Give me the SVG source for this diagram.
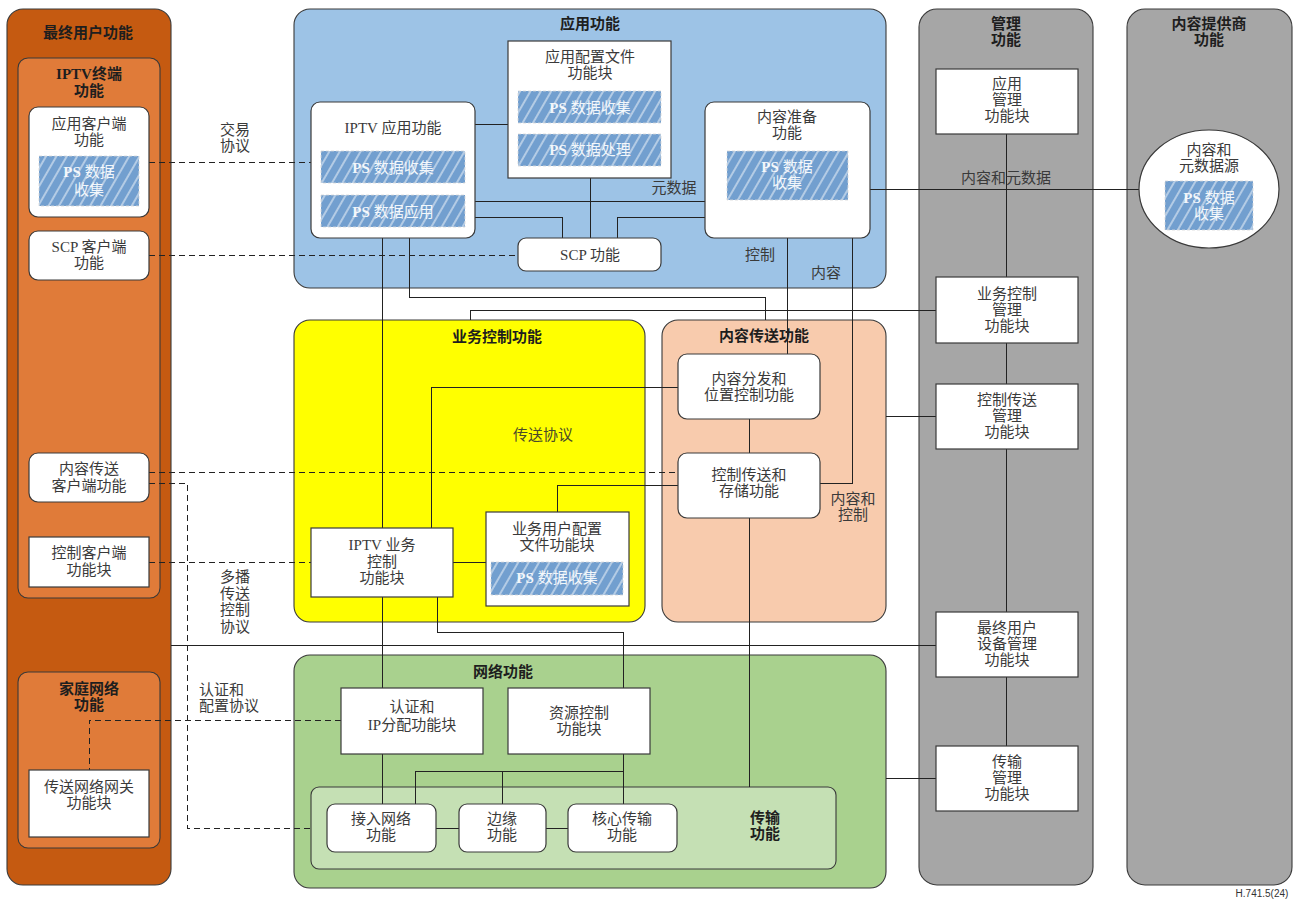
<svg xmlns="http://www.w3.org/2000/svg" width="1297" height="899" viewBox="0 0 1297 899">
<style>
.t{font-family:"Liberation Serif","Noto Sans CJK SC",serif;font-size:15px;fill:#3a3a3a;text-anchor:middle}
.b{font-weight:bold;fill:#1e1e1e}
.l{text-anchor:start}
.p{fill:#ffffff;fill-opacity:0.92}
.c{stroke:#3a3a3a;stroke-width:1.1}
.n{fill:#ffffff;stroke:#3a3a3a;stroke-width:1.2}
.ps{fill:url(#hatch);stroke:#d8d8d8;stroke-width:0.8;stroke-dasharray:3 2}
.ln{fill:none;stroke:#222222;stroke-width:1;shape-rendering:crispEdges}
.ds{fill:none;stroke:#222222;stroke-width:1;stroke-dasharray:6 4;shape-rendering:crispEdges}
</style>
<defs>
<pattern id="hatch" width="9" height="9" patternUnits="userSpaceOnUse" patternTransform="rotate(30)">
<rect width="9" height="9" fill="#729fcf"/>
<line x1="1" y1="0" x2="1" y2="9" stroke="#ffffff" stroke-width="1.1" stroke-opacity="0.85"/>
</pattern>
</defs>

<!-- containers -->
<g id="end-user">
<rect class="c" x="7" y="9" width="164" height="876" rx="16" fill="#c55a11"/>
<text class="t b" x="88" y="38">最终用户功能</text>
</g>
<g id="iptv-terminal">
<rect class="c" x="18" y="58" width="142" height="540" rx="10" fill="#e07b39"/>
<text class="t b" x="89" y="79">IPTV终端</text>
<text class="t b" x="89" y="96">功能</text>
</g>
<g id="home-network">
<rect class="c" x="18" y="672" width="142" height="176" rx="10" fill="#e07b39"/>
<text class="t b" x="89" y="694">家庭网络</text>
<text class="t b" x="89" y="710">功能</text>
</g>
<g id="app-functions">
<rect class="c" x="294" y="9" width="592" height="279" rx="16" fill="#9dc3e6"/>
<text class="t b" x="590" y="29">应用功能</text>
</g>
<g id="service-control">
<rect class="c" x="294" y="320" width="351" height="302" rx="16" fill="#ffff00"/>
<text class="t b" x="497" y="342">业务控制功能</text>
</g>
<g id="content-delivery">
<rect class="c" x="662" y="320" width="224" height="302" rx="16" fill="#f8cbad"/>
<text class="t b" x="764" y="341">内容传送功能</text>
</g>
<g id="network-functions">
<rect class="c" x="294" y="655" width="592" height="233" rx="16" fill="#a9d18e"/>
<text class="t b" x="503" y="677">网络功能</text>
</g>
<g id="transport-functions">
<rect class="c" x="311" y="787" width="525" height="82" rx="8" fill="#c5e0b4"/>
<text class="t b" x="765" y="823">传输</text>
<text class="t b" x="765" y="839">功能</text>
</g>
<g id="management">
<rect class="c" x="919" y="9" width="174" height="876" rx="18" fill="#a6a6a6"/>
<text class="t b" x="1006" y="29">管理</text>
<text class="t b" x="1006" y="45">功能</text>
</g>
<g id="content-provider">
<rect class="c" x="1127" y="9" width="165" height="876" rx="18" fill="#a6a6a6"/>
<text class="t b" x="1209" y="29">内容提供商</text>
<text class="t b" x="1209" y="45">功能</text>
</g>

<!-- connectors -->
<g id="connectors">
<path class="ds" d="M149 162H311"/>
<path class="ds" d="M149 255H518"/>
<path class="ds" d="M149 472H678"/>
<path class="ds" d="M149 483H187V828H311"/>
<path class="ds" d="M149 562H311"/>
<path class="ds" d="M341 720H89V770"/>
<path class="ln" d="M475 124H508"/>
<path class="ln" d="M590 178V238"/>
<path class="ln" d="M475 201H705"/>
<path class="ln" d="M475 217H562V238"/>
<path class="ln" d="M705 217H617V238"/>
<path class="ln" d="M870 189H1140"/>
<path class="ln" d="M382 238V804"/>
<path class="ln" d="M409 238V297H765V320"/>
<path class="ln" d="M470 320V310H936"/>
<path class="ln" d="M787 238V354"/>
<path class="ln" d="M852 238V483H820"/>
<path class="ln" d="M431 528V387H678"/>
<path class="ln" d="M557 512V485H678"/>
<path class="ln" d="M453 562H486"/>
<path class="ln" d="M437 597V632H623V688"/>
<path class="ln" d="M749 419V453"/>
<path class="ln" d="M749 518V787"/>
<path class="ln" d="M886 416H936"/>
<path class="ln" d="M171 645H936"/>
<path class="ln" d="M886 778H936"/>
<path class="ln" d="M1006 134V746"/>
<path class="ln" d="M623 754V804"/>
<path class="ln" d="M415 804V771H623"/>
<path class="ln" d="M502 771V804"/>
<path class="ln" d="M436 828H459M546 828H568"/>
<text class="t" x="235" y="135">交易</text>
<text class="t" x="235" y="151">协议</text>
<text class="t" x="674" y="193">元数据</text>
<text class="t" x="760" y="260">控制</text>
<text class="t" x="826" y="278">内容</text>
<text class="t" x="1006" y="183">内容和元数据</text>
<text class="t" x="543" y="440" style="fill:#4a4a2a">传送协议</text>
<text class="t" x="853" y="504">内容和</text>
<text class="t" x="853" y="520">控制</text>
<text class="t" x="235" y="582">多播</text>
<text class="t" x="235" y="599">传送</text>
<text class="t" x="235" y="615">控制</text>
<text class="t" x="235" y="632">协议</text>
<text class="t l" x="199" y="695">认证和</text>
<text class="t l" x="199" y="711">配置协议</text>
</g>

<!-- nodes -->
<g id="app-client">
<rect class="n" x="29" y="107" width="120" height="110" rx="9"/>
<text class="t" x="89" y="129">应用客户端</text>
<text class="t" x="89" y="145">功能</text>
<rect class="ps" x="39" y="156" width="100" height="50"/>
<text class="t p" x="89" y="177"><tspan font-weight="bold">PS</tspan> 数据</text>
<text class="t p" x="89" y="195">收集</text>
</g>
<g id="scp-client">
<rect class="n" x="29" y="231" width="120" height="49" rx="9"/>
<text class="t" x="89" y="252">SCP 客户端</text>
<text class="t" x="89" y="268">功能</text>
</g>
<g id="content-delivery-client">
<rect class="n" x="29" y="453" width="120" height="49" rx="9"/>
<text class="t" x="89" y="474">内容传送</text>
<text class="t" x="89" y="491">客户端功能</text>
</g>
<g id="control-client">
<rect class="n" x="29" y="537" width="120" height="50"/>
<text class="t" x="89" y="558">控制客户端</text>
<text class="t" x="89" y="575">功能块</text>
</g>
<g id="gateway">
<rect class="n" x="29" y="770" width="120" height="67"/>
<text class="t" x="89" y="792">传送网络网关</text>
<text class="t" x="89" y="808">功能块</text>
</g>
<g id="app-profile">
<rect class="n" x="508" y="41" width="163" height="137"/>
<text class="t" x="590" y="62">应用配置文件</text>
<text class="t" x="590" y="78">功能块</text>
<rect class="ps" x="518" y="91" width="143" height="32"/>
<text class="t p" x="590" y="113"><tspan font-weight="bold">PS</tspan> 数据收集</text>
<rect class="ps" x="518" y="134" width="143" height="32"/>
<text class="t p" x="590" y="155"><tspan font-weight="bold">PS</tspan> 数据处理</text>
</g>
<g id="iptv-app">
<rect class="n" x="311" y="102" width="164" height="136" rx="9"/>
<text class="t" x="393" y="133">IPTV 应用功能</text>
<rect class="ps" x="321" y="151" width="144" height="32"/>
<text class="t p" x="393" y="173"><tspan font-weight="bold">PS</tspan> 数据收集</text>
<rect class="ps" x="321" y="195" width="144" height="32"/>
<text class="t p" x="393" y="217"><tspan font-weight="bold">PS</tspan> 数据应用</text>
</g>
<g id="content-prep">
<rect class="n" x="705" y="102" width="165" height="136" rx="9"/>
<text class="t" x="787" y="122">内容准备</text>
<text class="t" x="787" y="138">功能</text>
<rect class="ps" x="727" y="151" width="121" height="49"/>
<text class="t p" x="787" y="172"><tspan font-weight="bold">PS</tspan> 数据</text>
<text class="t p" x="787" y="188">收集</text>
</g>
<g id="scp">
<rect class="n" x="518" y="238" width="143" height="33" rx="8"/>
<text class="t" x="590" y="260">SCP 功能</text>
</g>
<g id="iptv-service-control">
<rect class="n" x="311" y="528" width="142" height="69"/>
<text class="t" x="382" y="550">IPTV 业务</text>
<text class="t" x="382" y="567">控制</text>
<text class="t" x="382" y="583">功能块</text>
</g>
<g id="service-user-profile">
<rect class="n" x="486" y="512" width="143" height="94"/>
<text class="t" x="557" y="534">业务用户配置</text>
<text class="t" x="557" y="550">文件功能块</text>
<rect class="ps" x="491" y="562" width="132" height="33"/>
<text class="t p" x="557" y="583"><tspan font-weight="bold">PS</tspan> 数据收集</text>
</g>
<g id="content-distribution">
<rect class="n" x="678" y="354" width="142" height="65" rx="9"/>
<text class="t" x="749" y="384">内容分发和</text>
<text class="t" x="749" y="400">位置控制功能</text>
</g>
<g id="delivery-storage">
<rect class="n" x="678" y="453" width="142" height="65" rx="9"/>
<text class="t" x="749" y="480">控制传送和</text>
<text class="t" x="749" y="496">存储功能</text>
</g>
<g id="auth-ip">
<rect class="n" x="341" y="688" width="142" height="66"/>
<text class="t" x="412" y="712">认证和</text>
<text class="t" x="412" y="730">IP分配功能块</text>
</g>
<g id="resource-control">
<rect class="n" x="508" y="688" width="142" height="66"/>
<text class="t" x="579" y="718">资源控制</text>
<text class="t" x="579" y="734">功能块</text>
</g>
<g id="access-network">
<rect class="n" x="327" y="804" width="109" height="48" rx="8"/>
<text class="t" x="381" y="824">接入网络</text>
<text class="t" x="381" y="840">功能</text>
</g>
<g id="edge">
<rect class="n" x="459" y="804" width="87" height="48" rx="8"/>
<text class="t" x="502" y="824">边缘</text>
<text class="t" x="502" y="840">功能</text>
</g>
<g id="core-transport">
<rect class="n" x="568" y="804" width="109" height="48" rx="8"/>
<text class="t" x="622" y="824">核心传输</text>
<text class="t" x="622" y="840">功能</text>
</g>
<g id="app-mgmt">
<rect class="n" x="936" y="69" width="142" height="65"/>
<text class="t" x="1007" y="89">应用</text>
<text class="t" x="1007" y="105">管理</text>
<text class="t" x="1007" y="121">功能块</text>
</g>
<g id="service-control-mgmt">
<rect class="n" x="936" y="277" width="142" height="66"/>
<text class="t" x="1007" y="299">业务控制</text>
<text class="t" x="1007" y="315">管理</text>
<text class="t" x="1007" y="331">功能块</text>
</g>
<g id="delivery-mgmt">
<rect class="n" x="936" y="384" width="142" height="65"/>
<text class="t" x="1007" y="405">控制传送</text>
<text class="t" x="1007" y="421">管理</text>
<text class="t" x="1007" y="437">功能块</text>
</g>
<g id="device-mgmt">
<rect class="n" x="936" y="612" width="142" height="65"/>
<text class="t" x="1007" y="633">最终用户</text>
<text class="t" x="1007" y="649">设备管理</text>
<text class="t" x="1007" y="665">功能块</text>
</g>
<g id="transport-mgmt">
<rect class="n" x="936" y="746" width="142" height="65"/>
<text class="t" x="1007" y="767">传输</text>
<text class="t" x="1007" y="783">管理</text>
<text class="t" x="1007" y="799">功能块</text>
</g>
<g id="content-source">
<ellipse class="n" cx="1209" cy="189" rx="70" ry="59"/>
<text class="t" x="1209" y="155">内容和</text>
<text class="t" x="1209" y="171">元数据源</text>
<rect class="ps" x="1165" y="181" width="88" height="49"/>
<text class="t p" x="1209" y="203"><tspan font-weight="bold">PS</tspan> 数据</text>
<text class="t p" x="1209" y="219">收集</text>
</g>
<text x="1262" y="897" style="font-family:'Liberation Sans',sans-serif;font-size:10px;fill:#333;text-anchor:middle">H.741.5(24)</text>
</svg>
